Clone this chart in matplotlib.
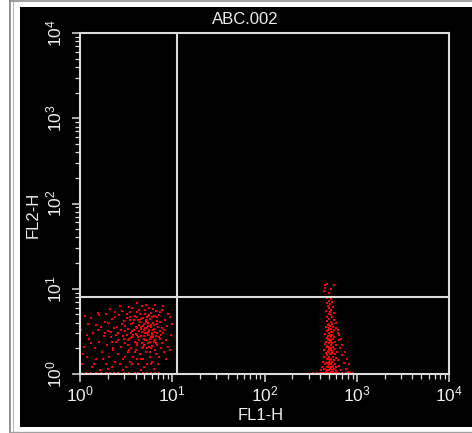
import matplotlib

matplotlib.use("Agg")
import matplotlib.pyplot as plt
import numpy as np
from matplotlib.lines import Line2D
from matplotlib.patches import Rectangle

W, H = 472, 433
RED = "#FF0000"
FRAME = "#DCDCDC"
TEXT = "#EEEEEE"

# FL1-H / FL2-H values of each event
left_cells = [
    (1.05, 1.3), (1.1, 2.1), (1.03, 3.3), (1.15, 1.03), (1.2, 1.6), (1.25, 2.6), (1.3, 4.5),
    (1.35, 1.2), (1.4, 3.0), (1.45, 2.0), (1.5, 1.5), (1.55, 5.2), (1.6, 2.4), (1.65, 1.1),
    (1.7, 3.6), (1.75, 1.8), (1.8, 2.8), (1.85, 4.1), (1.9, 1.3), (1.95, 2.2), (2.0, 3.2),
    (2.05, 1.6), (2.1, 5.8), (2.15, 2.7), (2.2, 1.2), (2.25, 4.4), (2.3, 2.0), (2.35, 3.5),
    (2.4, 1.4), (2.45, 2.9), (1.08, 1.7), (1.12, 4.8), (1.22, 3.9), (1.33, 2.3), (1.48, 3.8),
    (1.62, 4.9), (1.78, 1.5), (1.88, 3.0), (2.02, 4.0), (2.18, 3.1), (2.28, 1.9), (2.42, 4.6),
    (2.48, 2.4), (1.03, 1.03), (1.3, 1.03), (1.7, 1.03), (2.1, 1.03), (2.35, 1.03),
    (2.5, 3.6), (2.55, 1.7), (2.6, 2.5), (2.65, 4.9), (2.7, 1.3), (2.75, 3.3), (2.8, 2.1),
    (2.85, 5.5), (2.9, 2.8), (2.95, 1.5), (3.0, 4.2), (3.05, 2.3), (3.1, 3.7), (3.15, 1.2),
    (3.2, 2.9), (3.25, 5.0), (3.3, 1.8), (3.35, 3.4), (3.4, 2.6), (3.45, 4.6), (3.5, 1.4),
    (3.55, 3.0), (3.6, 2.0), (3.65, 5.9), (3.7, 2.7), (3.75, 4.0), (3.8, 1.6), (3.85, 3.3),
    (3.9, 2.4), (3.95, 4.8), (4.0, 1.9), (4.05, 3.6), (4.1, 2.2), (4.15, 5.3), (4.2, 2.9),
    (4.25, 1.3), (4.3, 4.3), (4.35, 2.5), (4.4, 3.8), (4.45, 1.7), (4.5, 5.0), (4.55, 2.8),
    (4.6, 3.4), (4.65, 2.0), (4.7, 6.3), (4.75, 3.1), (4.8, 1.5), (4.85, 4.5), (4.9, 2.6),
    (4.95, 3.9), (5.0, 2.2), (5.05, 5.6), (5.1, 3.0), (5.15, 1.8), (5.2, 4.1), (5.25, 2.5),
    (5.3, 3.5), (5.35, 1.3), (5.4, 4.8), (5.45, 2.9), (5.5, 3.7), (5.55, 2.1), (5.6, 6.0),
    (5.65, 3.2), (5.7, 1.6), (5.75, 4.4), (5.8, 2.6), (5.85, 3.8), (5.9, 2.0), (5.95, 5.2),
    (6.0, 3.0), (6.1, 1.4), (6.2, 4.0), (6.3, 2.4), (6.4, 3.4), (6.5, 1.9), (6.6, 5.5),
    (6.7, 2.8), (6.8, 4.2), (6.9, 2.2), (7.0, 3.6), (7.1, 1.6), (7.2, 4.9), (7.3, 2.6),
    (7.4, 3.2), (7.5, 2.0), (7.7, 5.7), (7.9, 3.0), (8.1, 1.8), (8.3, 4.3), (8.5, 2.5),
    (8.8, 3.7), (9.1, 2.1), (9.4, 4.6), (9.7, 2.9), (10.0, 3.9), (8.0, 6.2), (6.5, 6.5),
    (4.2, 6.8), (5.2, 6.4), (3.4, 6.1), (2.7, 6.2),
    (3.0, 2.6), (3.2, 4.5), (3.4, 1.9), (3.6, 3.9), (3.8, 2.9), (4.0, 4.7), (4.2, 2.3),
    (4.4, 3.2), (4.6, 1.5), (4.8, 3.7), (5.0, 2.8), (5.2, 4.3), (5.4, 2.3), (5.6, 3.3),
    (5.8, 1.8), (6.0, 4.6), (6.2, 2.7), (6.4, 3.8), (6.6, 2.3), (6.8, 3.0), (3.1, 3.2),
    (3.3, 2.2), (3.5, 4.3), (3.7, 3.2), (3.9, 1.8), (4.1, 3.5), (4.3, 2.7), (4.5, 4.1),
    (4.7, 2.3), (4.9, 3.3), (5.1, 2.5), (5.3, 4.6), (5.5, 3.1), (5.7, 2.4), (5.9, 3.6),
    (6.1, 2.9), (6.3, 4.8), (6.5, 3.1), (6.7, 1.7), (6.9, 3.9), (7.1, 2.7), (7.3, 4.1),
    (7.5, 2.9), (7.8, 3.5), (4.05, 2.95), (4.55, 3.55), (5.05, 3.45), (5.45, 3.95),
    (5.85, 2.75), (6.25, 3.25), (3.55, 2.65), (4.85, 2.05), (5.35, 3.05), (6.05, 2.15),
    (2.6, 1.03), (3.0, 1.03), (3.4, 1.03), (3.9, 1.03), (4.3, 1.03), (4.8, 1.03),
    (5.3, 1.03), (5.9, 1.03), (6.5, 1.03), (7.2, 1.03), (1.5, 1.03), (1.9, 1.03),
    (1.18, 2.9), (1.42, 1.3), (1.58, 3.3), (1.92, 5.0), (2.22, 2.4), (2.38, 5.3), (2.58, 3.0),
    (2.88, 3.9), (3.08, 1.6), (3.28, 2.5), (3.48, 5.4), (3.68, 1.3), (3.88, 4.3), (4.12, 1.5),
    (4.38, 5.6), (4.62, 4.4), (4.88, 1.2), (5.12, 5.0), (5.38, 2.0), (5.62, 4.9), (5.88, 1.3),
    (6.15, 5.8), (6.45, 2.5), (6.75, 4.7), (7.05, 1.3), (7.35, 5.3), (7.65, 2.3), (8.2, 3.3),
    (8.6, 1.5), (9.0, 5.1), (9.5, 1.9), (2.0, 1.15), (2.9, 1.1), (4.6, 1.1), (6.3, 1.15),
]

right_cells = [
    (453, 11.0), (480, 11.4), (560, 11.0), (455, 10.2), (530, 9.8), (440, 9.4), (500, 8.9),
    (480, 7.8), (520, 7.5), (500, 7.2), (540, 7.0), (470, 6.8), (510, 6.6), (490, 6.3),
    (550, 6.1), (500, 5.9), (530, 5.7), (460, 5.5), (515, 5.4), (570, 5.2), (495, 5.0),
    (525, 4.9), (480, 4.7), (545, 4.6), (505, 4.4), (560, 4.3), (470, 4.2), (520, 4.1),
    (590, 4.0), (500, 3.9), (535, 3.85), (485, 3.8), (515, 3.7), (550, 3.6), (465, 3.55),
    (600, 3.5), (505, 3.45), (530, 3.4), (490, 3.3), (560, 3.25), (475, 3.2), (520, 3.15),
    (545, 3.1), (500, 3.05), (620, 3.0), (455, 2.95), (510, 2.9), (535, 2.85), (490, 2.8),
    (570, 2.75), (520, 2.7), (470, 2.65), (505, 2.6), (550, 2.55), (640, 2.5), (485, 2.5),
    (525, 2.45), (460, 2.4), (510, 2.4), (580, 2.35), (495, 2.3), (540, 2.3), (450, 2.25),
    (520, 2.2), (600, 2.2), (480, 2.15), (555, 2.1), (505, 2.1), (470, 2.05), (530, 2.0),
    (660, 2.0), (495, 1.95), (565, 1.95), (440, 1.9), (515, 1.9), (545, 1.85), (485, 1.85),
    (610, 1.8), (500, 1.8), (460, 1.75), (535, 1.75), (575, 1.7), (520, 1.7), (475, 1.65),
    (690, 1.65), (505, 1.6), (550, 1.6), (445, 1.6), (590, 1.55), (490, 1.55), (530, 1.5),
    (470, 1.5), (620, 1.45), (510, 1.45), (560, 1.45), (430, 1.4), (495, 1.4), (540, 1.4),
    (720, 1.35), (480, 1.35), (525, 1.35), (580, 1.3), (455, 1.3), (505, 1.3), (640, 1.25),
    (550, 1.25), (490, 1.25), (420, 1.2), (530, 1.2), (600, 1.2), (470, 1.2), (760, 1.15),
    (515, 1.15), (565, 1.15), (445, 1.15), (500, 1.1), (680, 1.1), (540, 1.1), (410, 1.1),
    (480, 1.08), (590, 1.08), (520, 1.05), (800, 1.05), (460, 1.05), (555, 1.05), (400, 1.04),
    (650, 1.04), (500, 1.04), (850, 1.03), (370, 1.03), (440, 1.03), (480, 1.03), (520, 1.03),
    (560, 1.03), (600, 1.03), (700, 1.03), (760, 1.03), (335, 1.03), (900, 1.03), (420, 1.03),
    (460, 1.03), (540, 1.03), (580, 1.03), (640, 1.03), (620, 3.3), (640, 2.9), (700, 2.2),
    (740, 1.8), (780, 1.5), (820, 1.3), (680, 2.6), (500, 2.0), (510, 1.7), (490, 1.5),
    (530, 1.3), (470, 1.1), (545, 1.2), (515, 2.5), (500, 3.4), (525, 1.9), (485, 1.2),
]

gate_fl1 = 11.2
gate_fl2 = 8.1
decades = [1, 10, 100, 1000, 10000]
decade_labels = [r"$\mathregular{10^{%d}}$" % k for k in range(5)]


def configure() -> None:
    plt.rcParams.update(
        {
            "font.family": ["Liberation Sans", "DejaVu Sans"],
            "mathtext.fontset": "custom",
            "mathtext.rm": "Liberation Sans",
            "font.size": 11,
            "axes.linewidth": 1.5,
            "axes.edgecolor": FRAME,
            "xtick.color": FRAME,
            "ytick.color": FRAME,
            "xtick.labelcolor": TEXT,
            "ytick.labelcolor": TEXT,
        }
    )


def dot_plot() -> None:
    fig = plt.figure(figsize=(W / 100, H / 100), dpi=100, facecolor="white")

    # grey outer frame and the black instrument panel
    fig.add_artist(Line2D([10 / W, 10 / W], [0, 1], color="#808080", lw=1.2, transform=fig.transFigure))
    fig.add_artist(Line2D([13 / W, 13 / W], [0, 1], color="#B8B8B8", lw=0.8, transform=fig.transFigure))
    fig.add_artist(Line2D([10 / W, 1], [1 - 0.8 / H] * 2, color="#909090", lw=1.2, transform=fig.transFigure))
    fig.add_artist(Line2D([10 / W, 1], [1 - 431.5 / H] * 2, color="#A0A0A0", lw=1.0, transform=fig.transFigure))
    fig.add_artist(Rectangle((20 / W, 1 - 427 / H), 452 / W, 420 / H, facecolor="black",
                             edgecolor="none", transform=fig.transFigure, zorder=-1))

    ax = fig.add_axes([80 / W, 1 - 374 / H, 369 / W, 341 / H], facecolor="black")
    ax.set_xscale("log")
    ax.set_yscale("log")

    lx, ly = np.array(left_cells).T
    rx, ry = np.array(right_cells).T
    ax.scatter(lx, ly, s=3.6, marker="s", color=RED, linewidths=0, zorder=1)
    ax.scatter(rx, ry, s=3.6, marker="s", color=RED, linewidths=0, zorder=1)

    ax.axvline(gate_fl1, color=FRAME, lw=1.5, zorder=2)
    ax.axhline(gate_fl2, color=FRAME, lw=1.5, zorder=2)

    ax.set_xlim(1, 1e4)
    ax.set_ylim(1, 1e4)
    ax.set_xticks(decades, decade_labels)
    ax.set_yticks(decades, decade_labels)
    for label in ax.get_yticklabels():
        label.set_rotation(90)
        label.set_verticalalignment("center")
    ax.tick_params(which="major", direction="out", length=5.5, width=1.1, labelsize=12.5)
    ax.tick_params(which="minor", direction="out", length=3.5, width=0.9)
    ax.tick_params(axis="x", which="major", pad=2)
    ax.tick_params(axis="y", which="major", pad=6)

    fig.text(245 / W, 1 - 19.5 / H, "ABC.002", color=TEXT, fontsize=12, ha="center", va="center")
    fig.text(261 / W, 1 - 415 / H, "FL1-H", color=TEXT, fontsize=12, ha="center", va="center")
    fig.text(33 / W, 1 - 215 / H, "FL2-H", color=TEXT, fontsize=12, ha="center", va="center",
             rotation=90)

    fig.savefig("out.png", dpi=100, facecolor="white")
    plt.close(fig)


if __name__ == "__main__":
    configure()
    dot_plot()
